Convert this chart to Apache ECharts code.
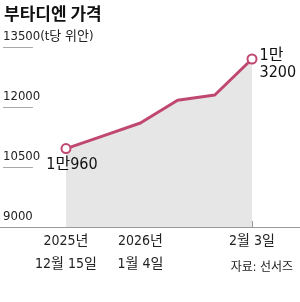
<!DOCTYPE html>
<html><head><meta charset="utf-8">
<script src="https://cdn.jsdelivr.net/npm/echarts@6/dist/echarts.min.js"></script>
<style>html,body{margin:0;padding:0;background:#fff}#c{width:300px;height:302px}</style>
</head><body><div id="c"></div>
<script>
const categories = ['12월 15일','12월 25일','1월 4일','1월 14일','1월 24일','2월 3일'];
const tickLabels = ['2025년\n12월 15일','','2026년\n1월 4일','','','2월 3일'];
const prices = [10960, 11280, 11600, 12170, 12300, 13200];
const pointNotes = ['1만960','','','','','1만\n3200'];
const yTicks = [9000, 10500, 12000, 13500];
const yUnit = '(t당 위안)';

const FONT = "'DejaVu Sans Condensed','Noto Sans CJK KR',sans-serif";
const LINE = '#c0486f';

const data = prices.map((v, i) => {
  const d = { value: v };
  if (!pointNotes[i]) { d.symbol = 'none'; d.label = { show: false }; }
  else if (i === 0) {
    d.label = { show: true, position: 'bottom', distance: 3, offset: [6, 0], formatter: pointNotes[i] };
  } else {
    d.label = { show: true, position: 'right', distance: 2, offset: [0, 5], align: 'left', formatter: pointNotes[i], lineHeight: 17 };
  }
  return d;
});

const chart = echarts.init(document.getElementById('c'), null, { renderer: 'canvas' });
chart.setOption({
  animation: false,
  textStyle: { fontFamily: FONT },
  title: [
    { text: '부타디엔 가격', left: -1, top: 0, textStyle: { fontFamily: "'Noto Sans CJK KR',sans-serif", fontWeight: 'bold', fontSize: 17, color: '#111' } },
    { text: '자료: 선서즈', right: 2, top: 257, textStyle: { fontFamily: FONT, fontWeight: 'normal', fontSize: 12, color: '#222' } }
  ],
  grid: [
    { left: 66, width: 186, top: 47, height: 180 },
    { left: 0, width: 33, top: 47, height: 180 },
    { left: 0, right: 0, top: 47, height: 180 }
  ],
  xAxis: [
    { gridIndex: 0, type: 'category', data: categories, boundaryGap: false,
      axisLine: { show: false },
      axisTick: { show: true, inside: true, length: 6, alignWithLabel: true, lineStyle: { color: '#999' } },
      axisLabel: { interval: 0, margin: 3, fontSize: 14, lineHeight: 23, color: '#222', fontFamily: FONT,
        formatter: (v, i) => tickLabels[i] } },
    { gridIndex: 1, type: 'value', show: false },
    { gridIndex: 2, type: 'value', axisLine: { show: true, lineStyle: { color: '#999', width: 1 } },
      axisTick: { show: false }, axisLabel: { show: false }, splitLine: { show: false } }
  ],
  yAxis: [
    { gridIndex: 0, type: 'value', min: 9000, max: 13500, interval: 1500, show: false },
    { gridIndex: 1, type: 'value', min: 9000, max: 13500, interval: 1500,
      axisLine: { show: false }, axisTick: { show: false },
      splitLine: { show: true, lineStyle: { color: '#aaa', width: 1 } },
      axisLabel: { inside: true, margin: 0, align: 'left', verticalAlign: 'bottom', padding: [0, 0, 4, 0],
        fontSize: 13, color: '#222', fontFamily: FONT,
        formatter: v => (v === yTicks[yTicks.length - 1] ? v + yUnit : String(v)) } },
    { gridIndex: 2, type: 'value', min: 0, max: 1, show: false }
  ],
  series: [{
    type: 'line', xAxisIndex: 0, yAxisIndex: 0, data: data,
    symbol: 'circle', symbolSize: 9,
    lineStyle: { color: LINE, width: 3 },
    itemStyle: { color: '#fff', borderColor: LINE, borderWidth: 2 },
    areaStyle: { color: '#e6e6e6', opacity: 1, origin: 'start' },
    label: { fontSize: 16, color: '#111', fontFamily: FONT },
    z: 3
  }]
});
</script></body></html>
